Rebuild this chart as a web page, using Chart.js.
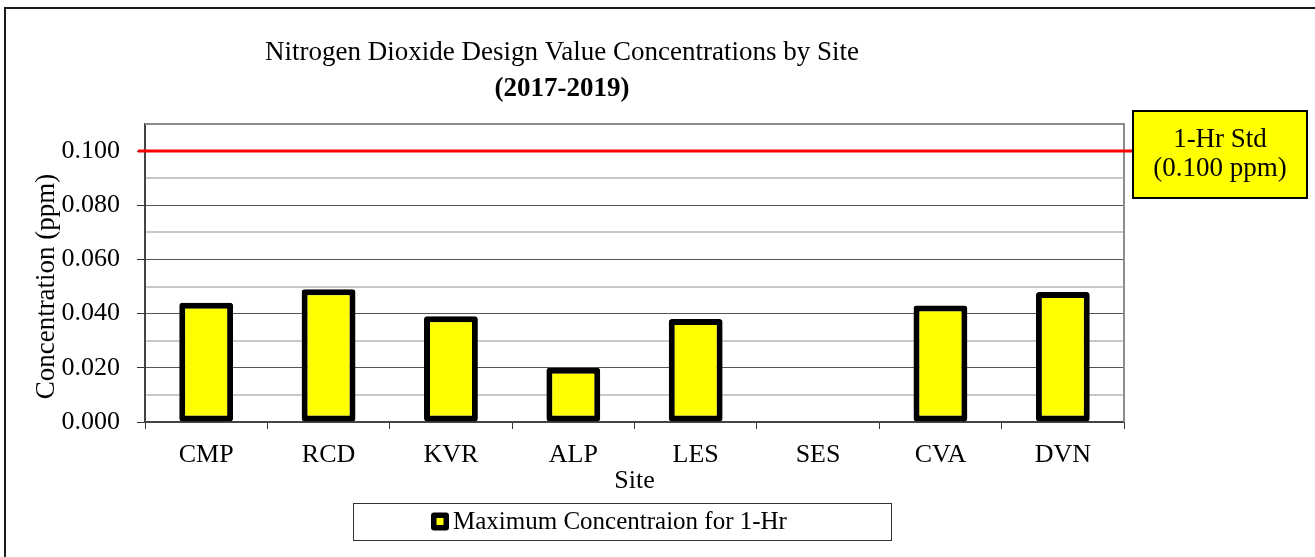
<!DOCTYPE html>
<html>
<head>
<meta charset="utf-8">
<script src="https://cdn.jsdelivr.net/npm/chart.js@4.4.0/dist/chart.umd.min.js"></script>
<style>
  html, body { margin: 0; padding: 0; background: #fff; }
  #wrap { width: 1315px; height: 557px; position: relative; }
</style>
</head>
<body>
<div id="wrap"><canvas id="no2_chart" width="1315" height="557"></canvas></div>
<script>
// data
var sites = ['CMP', 'RCD', 'KVR', 'ALP', 'LES', 'SES', 'CVA', 'DVN'];
var maxConc = [0.044, 0.049, 0.039, 0.020, 0.038, null, 0.043, 0.048];
var seriesLabel = 'Maximum Concentraion for 1-Hr';
var stdValue = 0.100;
var stdLabel = ['1-Hr Std', '(0.100 ppm)'];

var serif = "'Liberation Serif', 'Times New Roman', serif";

function isMajor(v) {
    return Math.round(v * 1000) % 20 === 0;
}

// outer frame + plot area border
var framePlugin = {
    id: 'frame',
    beforeDraw: function (chart) {
        var ctx = chart.ctx;
        ctx.save();
        ctx.fillStyle = '#fff';
        ctx.fillRect(0, 0, chart.width, chart.height);
        ctx.strokeStyle = '#1a1a1a';
        ctx.lineWidth = 2;
        ctx.strokeRect(5, 8, chart.width + 50, chart.height + 50);
        ctx.restore();
    },
    beforeDatasetsDraw: function (chart) {
        var a = chart.chartArea, ctx = chart.ctx;
        ctx.save();
        ctx.strokeStyle = '#8c8c8c';
        ctx.lineWidth = 2;
        ctx.beginPath();
        ctx.moveTo(a.left, a.top);
        ctx.lineTo(a.right, a.top);
        ctx.lineTo(a.right, a.bottom);
        ctx.stroke();
        ctx.restore();
    }
};

// 1-hr standard line and its label box
var stdPlugin = {
    id: 'stdLine',
    afterDatasetsDraw: function (chart) {
        var ctx = chart.ctx, a = chart.chartArea;
        var y = chart.scales.y.getPixelForValue(stdValue);
        var boxL = 1133, boxT = 111, boxW = 174, boxH = 87;
        ctx.save();
        ctx.strokeStyle = '#ff0000';
        ctx.lineWidth = 3;
        ctx.beginPath();
        ctx.moveTo(a.left - 7, y);
        ctx.lineTo(boxL, y);
        ctx.stroke();

        ctx.fillStyle = '#ffff00';
        ctx.fillRect(boxL, boxT, boxW, boxH);
        ctx.strokeStyle = '#000';
        ctx.lineWidth = 2;
        ctx.strokeRect(boxL, boxT, boxW, boxH);

        ctx.fillStyle = '#000';
        ctx.font = '27px ' + serif;
        ctx.textAlign = 'center';
        ctx.textBaseline = 'middle';
        ctx.fillText(stdLabel[0], boxL + boxW / 2, boxT + 29);
        ctx.fillText(stdLabel[1], boxL + boxW / 2, boxT + 58);
        ctx.restore();
    }
};

// legend drawn as a framed box under the axis
var legendPlugin = {
    id: 'boxLegend',
    afterDraw: function (chart) {
        var ctx = chart.ctx;
        var ds = chart.data.datasets[0];
        var L = 353, T = 503, W = 538, H = 37;
        ctx.save();
        ctx.strokeStyle = '#333';
        ctx.lineWidth = 1;
        ctx.strokeRect(L + 0.5, T + 0.5, W, H);

        ctx.font = '25px ' + serif;
        var mx = L + 78;
        var my = T + H / 2;
        ctx.fillStyle = '#000';
        ctx.beginPath();
        ctx.roundRect(mx, my - 9, 18, 18, 3);
        ctx.fill();
        ctx.fillStyle = ds.backgroundColor;
        ctx.fillRect(mx + 5.5, my - 3.5, 7, 7);

        ctx.fillStyle = '#000';
        ctx.textAlign = 'left';
        ctx.textBaseline = 'middle';
        ctx.fillText(ds.label, mx + 22, my + 1);
        ctx.restore();
    }
};

var NO2Chart = new Chart(document.getElementById('no2_chart'), {
    type: 'bar',
    data: {
        labels: sites,
        datasets: [
            {
                label: seriesLabel,
                data: maxConc,
                backgroundColor: '#ffff00',
                borderColor: '#000000',
                borderWidth: 6,
                borderRadius: 3,
                borderSkipped: false,
                categoryPercentage: 1.0,
                barPercentage: 0.44
            }
        ]
    },
    options: {
        responsive: false,
        animation: false,
        devicePixelRatio: 1,
        layout: {
            padding: { left: 0, right: 191, bottom: 55, top: 0 }
        },
        plugins: {
            legend: { display: false },
            tooltip: { enabled: false },
            title: {
                display: true,
                text: 'Nitrogen Dioxide Design Value Concentrations by Site',
                color: '#000',
                font: { family: serif, size: 27, weight: 'normal' },
                padding: { top: 36.8, bottom: 2 }
            },
            subtitle: {
                display: true,
                text: '(2017-2019)',
                color: '#000',
                font: { family: serif, size: 27, weight: 'bold' },
                padding: { top: 1.6, bottom: 18.8 }
            }
        },
        scales: {
            x: {
                afterFit: function (scale) { scale.height = 80; },
                grid: {
                    drawOnChartArea: false,
                    drawTicks: true,
                    tickLength: 7,
                    tickColor: '#333',
                    offset: true
                },
                border: { color: '#444', width: 2 },
                ticks: {
                    color: '#000',
                    font: { family: serif, size: 26 },
                    padding: 11,
                    maxRotation: 0
                },
                title: {
                    display: true,
                    text: 'Site',
                    color: '#000',
                    font: { family: serif, size: 26 },
                    padding: { top: 0, bottom: 5 }
                }
            },
            y: {
                min: 0,
                max: 0.11,
                afterFit: function (scale) { scale.width = 145; },
                grid: {
                    color: function (c) {
                        if (!c.tick) return '#c0c0c0';
                        if (c.tick.value > 0.105) return '#8c8c8c';
                        return isMajor(c.tick.value) ? '#555' : '#c8c8c8';
                    },
                    lineWidth: function (c) {
                        if (!c.tick) return 1;
                        return isMajor(c.tick.value) && c.tick.value < 0.105 ? 1 : 2;
                    },
                    tickColor: function (c) {
                        if (!c.tick) return 'rgba(0,0,0,0)';
                        return isMajor(c.tick.value) && c.tick.value < 0.105 ? '#333' : 'rgba(0,0,0,0)';
                    },
                    tickLength: 8
                },
                border: { color: '#444', width: 2 },
                ticks: {
                    stepSize: 0.01,
                    autoSkip: false,
                    color: '#000',
                    font: { family: serif, size: 26 },
                    padding: 17,
                    callback: function (v) {
                        return (isMajor(v) && v < 0.105) ? v.toFixed(3) : '';
                    }
                },
                title: {
                    display: true,
                    // trailing spaces nudge the rotated title down like the original
                    text: 'Concentration (ppm)\u00a0\u00a0\u00a0\u00a0',
                    color: '#000',
                    font: { family: serif, size: 27 },
                    padding: { top: 31, bottom: 0 }
                }
            }
        }
    },
    plugins: [framePlugin, stdPlugin, legendPlugin]
});
</script>
</body>
</html>
